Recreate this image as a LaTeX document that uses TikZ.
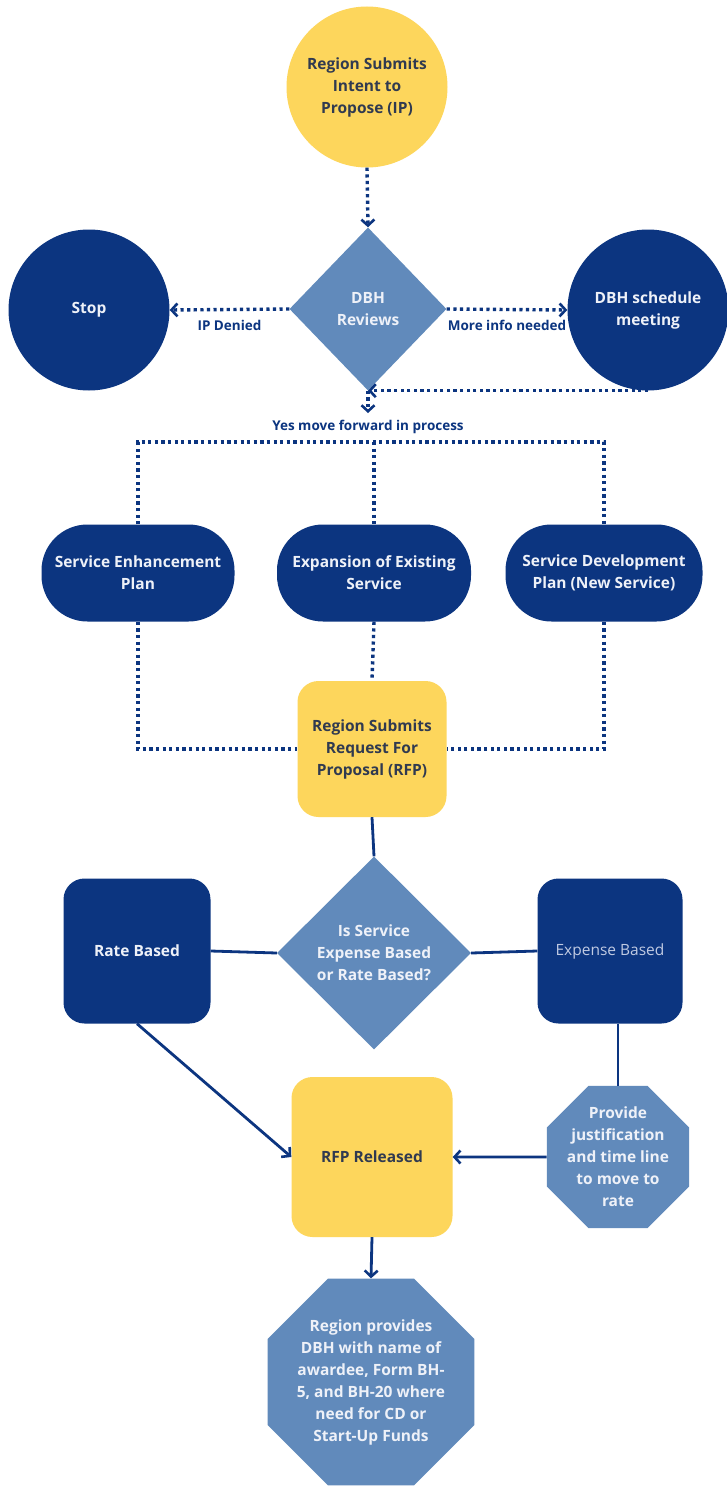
\documentclass[tikz,border=0pt]{standalone}
\usepackage{fontspec}
\setmainfont{Open Sans}
\usetikzlibrary{shapes.geometric,arrows.meta}

\definecolor{proposalyellow}{RGB}{253,214,92}
\definecolor{dbhnavy}{RGB}{12,53,128}
\definecolor{reviewblue}{RGB}{97,138,187}
\definecolor{darktext}{RGB}{48,58,80}
\definecolor{paletext}{RGB}{238,241,248}
\definecolor{expensetext}{RGB}{192,202,226}

\begin{document}
\begin{tikzpicture}[x=1pt,y=-1pt,
    every node/.style={align=center,inner sep=0pt,font=\fontsize{15.5}{22}\selectfont\bfseries},
    yellowshape/.style={fill=proposalyellow,text=darktext},
    navyshape/.style={fill=dbhnavy,text=paletext},
    steelshape/.style={fill=reviewblue,text=paletext},
    dotline/.style={draw=dbhnavy,line width=3.4pt,dash pattern=on 3.2pt off 3.4pt},
    solidline/.style={draw=dbhnavy,line width=2.8pt},
    barb/.style={-{Straight Barb[length=6pt,width=13pt,line width=2.6pt]}},
    branchlabel/.style={font=\fontsize{13.5}{16}\selectfont\bfseries,text=dbhnavy}
]
    \pgfmathsetmacro{\circlesize}{161}
    \pgfmathsetmacro{\stadiumheight}{97}
    \pgfmathsetmacro{\stadiumradius}{46}
    \pgfmathsetmacro{\boxradius}{21}
    \fill[white] (0,0) rectangle (727,1488);
    \useasboundingbox (0,0) rectangle (727,1488);

    % first round: intent and review
    \node[circle,yellowshape,minimum size=\circlesize pt] (intent) at (367,87) {Region Submits\\Intent to\\Propose (IP)};
    \node[diamond,steelshape,minimum width=157pt,minimum height=163pt] (review) at (368,309) {DBH\\Reviews};
    \node[circle,navyshape,minimum size=\circlesize pt] (stop) at (89,310) {Stop};
    \node[circle,navyshape,minimum size=\circlesize pt] (meeting) at (648,310) {DBH schedule\\meeting};
    \coordinate (yesarrow) at (368,413);
    \node[branchlabel] (yeslabel) at (368,427) {Yes move forward in process};
    \coordinate (splitline) at (368,442);

    % three kinds of plan
    \node[navyshape,rounded corners=\stadiumradius pt,minimum width=193pt,minimum height=\stadiumheight pt] (enhance) at (138,573) {Service Enhancement\\Plan};
    \node[navyshape,rounded corners=\stadiumradius pt,minimum width=194pt,minimum height=\stadiumheight pt] (expand) at (374,573) {Expansion of Existing\\Service};
    \node[navyshape,rounded corners=\stadiumradius pt,minimum width=197pt,minimum height=\stadiumheight pt] (develop) at (604,573) {Service Development\\Plan (New Service)};

    % request and funding basis
    \node[yellowshape,rounded corners=\boxradius pt,minimum width=149pt,minimum height=136pt] (request) at (372,749) {Region Submits\\Request For\\Proposal (RFP)};
    \node[diamond,steelshape,minimum width=194pt,minimum height=193pt] (basis) at (374,953) {Is Service\\Expense Based\\or Rate Based?};
    \node[navyshape,rounded corners=\boxradius pt,minimum width=147pt,minimum height=145pt] (rate) at (137,951) {Rate Based};
    \node[navyshape,rounded corners=\boxradius pt,minimum width=145pt,minimum height=145pt,text=expensetext,font=\fontsize{15.5}{22}\selectfont] (expense) at (610,951) {Expense Based};
    \node[yellowshape,rounded corners=\boxradius pt,minimum width=161pt,minimum height=160pt] (released) at (372,1157) {RFP Released};
    \node[regular polygon,regular polygon sides=8,steelshape,minimum size=154pt,inner sep=-12pt] (justify) at (618,1157) {Provide\\justification\\and time line\\to move to\\rate};
    \node[regular polygon,regular polygon sides=8,steelshape,minimum size=224pt,inner sep=-22pt] (awardee) at (371,1382) {Region provides\\DBH with name of\\awardee, Form BH-\\5, and BH-20 where\\need for CD or\\Start-Up Funds};

    % dotted connectors
    \draw[dotline,barb] (intent.south) -- (review.north);
    \draw[dotline,barb] (review.west) -- (stop.east) node[midway,below=9pt,branchlabel] {IP Denied};
    \draw[dotline,barb] (review.east) -- (meeting.west) node[midway,below=9pt,branchlabel] {More info needed};
    \draw[dotline,barb] (meeting.south) -- (review.south);
    \draw[dotline,barb] (review.south) -- (yesarrow);
    \draw[dotline] (enhance.north) -- (enhance.north |- splitline) -- (develop.north |- splitline) -- (develop.north);
    \draw[dotline] (expand.north |- splitline) -- (expand.north);
    \draw[dotline] (enhance.south) |- (request.west);
    \draw[dotline] (develop.south) |- (request.east);
    \draw[dotline] (expand.south) -- (request.north);

    % solid connectors
    \draw[solidline] (request.south) -- (basis.north);
    \draw[solidline] (rate.east) -- (basis.west);
    \draw[solidline] (basis.east) -- (expense.west);
    \draw[solidline,barb] (rate.south) -- (released.west);
    \draw[solidline] (expense.south -| justify.north) -- (justify.north);
    \draw[solidline,barb] (justify.west) -- (released.east);
    \draw[solidline,barb] (released.south) -- (awardee.north);
\end{tikzpicture}
\end{document}
